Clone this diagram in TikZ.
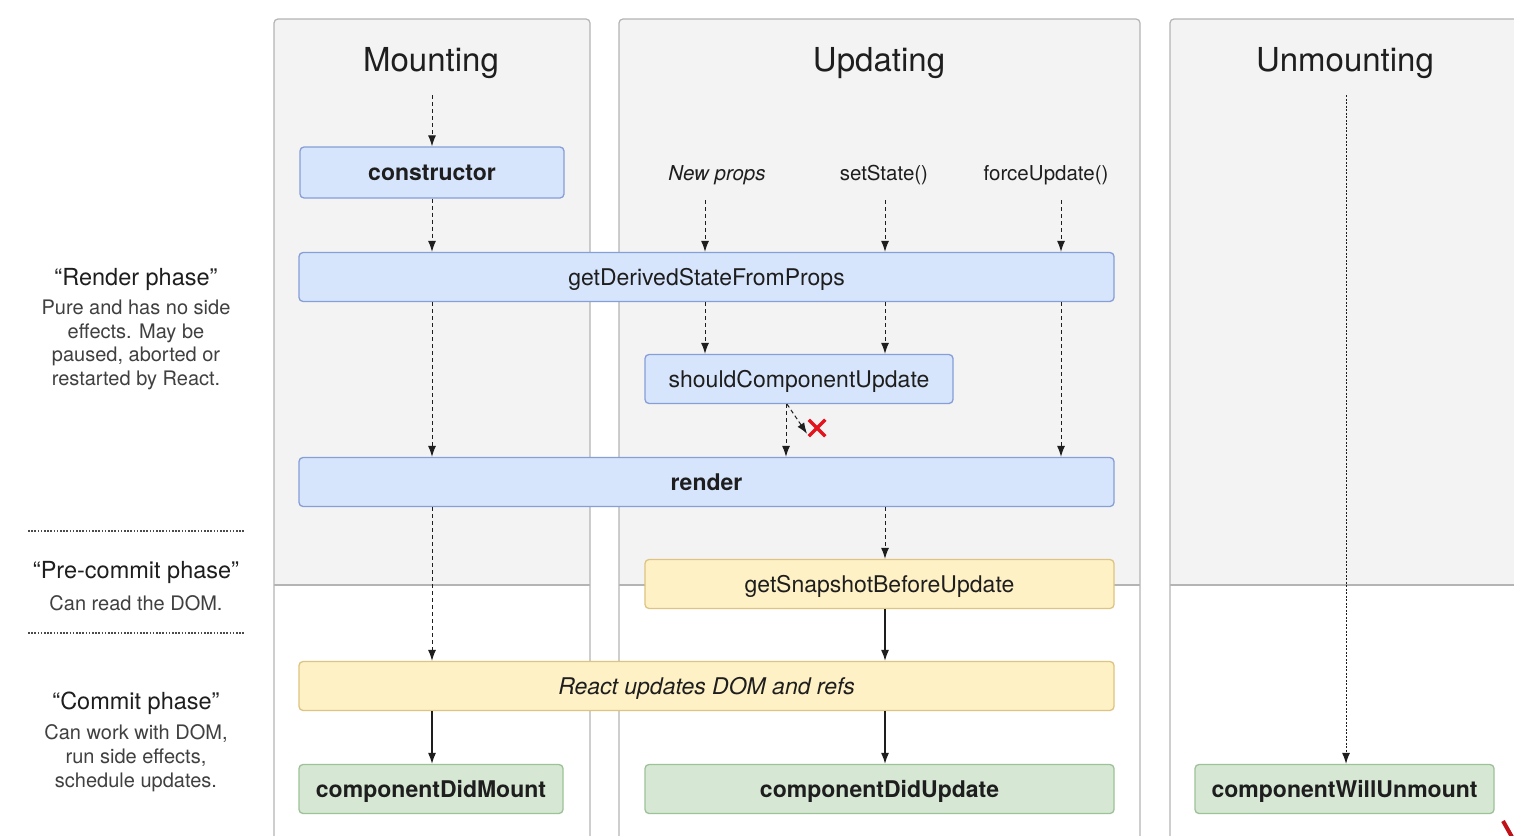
\documentclass[tikz,border=0pt]{standalone}
\usepackage{fontspec}
\setmainfont{TeX Gyre Heros}
\usetikzlibrary{arrows.meta,positioning,shapes.misc}
\definecolor{colfill}{RGB}{243,243,243}
\definecolor{colline}{RGB}{180,180,180}
\definecolor{bluefill}{RGB}{215,229,252}
\definecolor{blueline}{RGB}{135,158,214}
\definecolor{yellowfill}{RGB}{255,241,198}
\definecolor{yellowline}{RGB}{222,196,128}
\definecolor{greenfill}{RGB}{214,232,212}
\definecolor{greenline}{RGB}{158,194,152}
\definecolor{textgray}{RGB}{30,30,30}
\definecolor{crossred}{RGB}{226,20,30}

\begin{document}
\begin{tikzpicture}[x=1pt, y=-1pt,
    box/.style={draw, rounded corners=4pt, line width=1.3pt, minimum height=49pt, inner sep=0pt, text height=18pt, text depth=2pt, font=\fontsize{23}{27}\selectfont, text=textgray},
    bluebox/.style={box, fill=bluefill, draw=blueline},
    yellowbox/.style={box, fill=yellowfill, draw=yellowline},
    greenbox/.style={box, fill=greenfill, draw=greenline},
    title/.style={font=\fontsize{33}{40}\selectfont, text=textgray},
    trigger/.style={font=\fontsize{20.5}{24}\selectfont, text=textgray},
    phase/.style={font=\fontsize{23.5}{28}\selectfont, text=textgray},
    note/.style={font=\fontsize{20}{23.7}\selectfont, align=center, text=textgray!85},
    sep/.style={line width=2pt, dash pattern=on 1.6pt off 1.6pt, textgray!80},
    dasharrow/.style={-{Latex[length=11pt,width=8pt]}, line width=1pt, dash pattern=on 4pt off 3pt, textgray},
    arrow/.style={-{Latex[length=11pt,width=8pt]}, line width=1.2pt, textgray}
]
    \useasboundingbox (0,0) rectangle (1514,835);
    \fill[white] (0,0) rectangle (1514,835);
    \clip (0,0) rectangle (1514,835);

    % columns
    \foreach \l/\r in {274/590, 619/1140, 1170/1540} {
        \fill[colfill, rounded corners=4pt] (\l,585) -- (\l,19) -- (\r,19) -- (\r,585) -- cycle;
        \draw[colline, line width=1.2pt] (\l,585) -- (\r,585);
        \draw[colline, line width=1.2pt, rounded corners=4pt] (\l,850) -- (\l,19) -- (\r,19) -- (\r,850);
    }

    \node[title] (mounting) at (431,63) {Mounting};
    \node[title] (updating) at (879,63) {Updating};
    \node[title] (unmounting) at (1345,63) {Unmounting};

    % phases on the left
    \node[phase] (rphase) at (136,279) {“Render phase”};
    \node[note] (rnote) at (136,345) {Pure and has no side\\effects. May be\\paused, aborted or\\restarted by React.};
    \draw[sep] (28,531) -- (245,531);
    \node[phase] (pphase) at (136,572) {“Pre-commit phase”};
    \node[note] (pnote) at (136,603) {Can read the DOM.};
    \draw[sep] (28,633) -- (245,633);
    \node[phase] (cphase) at (136,703) {“Commit phase”};
    \node[note] (cnote) at (136,758) {Can work with DOM,\\run side effects,\\schedule updates.};

    % triggers
    \node[trigger] (newprops) at (717,175) {\itshape New props};
    \node[trigger] (setstate) at (884,175) {setState()};
    \node[trigger] (forceupdate) at (1046,175) {forceUpdate()};
    \coordinate (m0) at (432,95);
    \coordinate (np) at (705,200);
    \coordinate (ss) at (885,200);
    \coordinate (fu) at (1061,200);
    \coordinate (u0) at (1346,95);

    % lifecycle methods
    \node[bluebox, minimum width=264pt, minimum height=51pt, font=\fontsize{23}{27}\selectfont\bfseries] (constructor) at (432,172.5) {constructor};
    \node[bluebox, minimum width=815pt] (gdsfp) at (706.5,277) {getDerivedStateFromProps};
    \node[bluebox, minimum width=308pt] (scu) at (799,379) {shouldComponentUpdate};
    \node[bluebox, minimum width=815pt, font=\fontsize{23}{27}\selectfont\bfseries] (render) at (706.5,482) {render};
    \node[yellowbox, minimum width=469pt] (gsbu) at (879.5,584) {getSnapshotBeforeUpdate};
    \node[yellowbox, minimum width=815pt, font=\fontsize{23}{27}\selectfont\itshape] (rdom) at (706.5,686) {React updates DOM and refs};
    \node[greenbox, minimum width=264pt, font=\fontsize{23}{27}\selectfont\bfseries] (cdm) at (431,789) {componentDidMount};
    \node[greenbox, minimum width=469pt, font=\fontsize{23}{27}\selectfont\bfseries] (cdu) at (879.5,789) {componentDidUpdate};
    \node[greenbox, minimum width=299pt, font=\fontsize{23}{27}\selectfont\bfseries] (cwu) at (1344.5,789) {componentWillUnmount};
    \node[cross out, draw=crossred, line width=3.5pt, minimum size=13pt, inner sep=0pt] (nox) at (817,428) {};

    % mounting
    \draw[dasharrow] (m0) -- (constructor.north -| m0);
    \draw[dasharrow] (constructor.south -| m0) -- (gdsfp.north -| m0);
    \draw[dasharrow] (gdsfp.south -| m0) -- (render.north -| m0);
    \draw[dasharrow] (render.south -| m0) -- (rdom.north -| m0);
    \draw[arrow] (rdom.south -| m0) -- (cdm.north -| m0);

    % updating
    \draw[dasharrow] (np) -- (gdsfp.north -| np);
    \draw[dasharrow] (ss) -- (gdsfp.north -| ss);
    \draw[dasharrow] (fu) -- (gdsfp.north -| fu);
    \draw[dasharrow] (gdsfp.south -| np) -- (scu.north -| np);
    \draw[dasharrow] (gdsfp.south -| ss) -- (scu.north -| ss);
    \draw[dasharrow] (gdsfp.south -| fu) -- (render.north -| fu);
    \draw[dasharrow] ([xshift=-13pt]scu.south) -- ([xshift=-13pt]scu.south |- render.north);
    \draw[dasharrow, shorten >=3pt] ([xshift=-12pt]scu.south) -- (nox.south west);
    \draw[dasharrow] (render.south -| ss) -- (gsbu.north -| ss);
    \draw[arrow] (gsbu.south -| ss) -- (rdom.north -| ss);
    \draw[arrow] (rdom.south -| ss) -- (cdu.north -| ss);

    % unmounting
    \draw[dasharrow, dash pattern=on 2pt off 1.5pt] (u0) -- (cwu.north -| u0);

    \draw[crossred!85!black, line width=4pt] (1503,821) -- (1512,837);
\end{tikzpicture}
\end{document}
